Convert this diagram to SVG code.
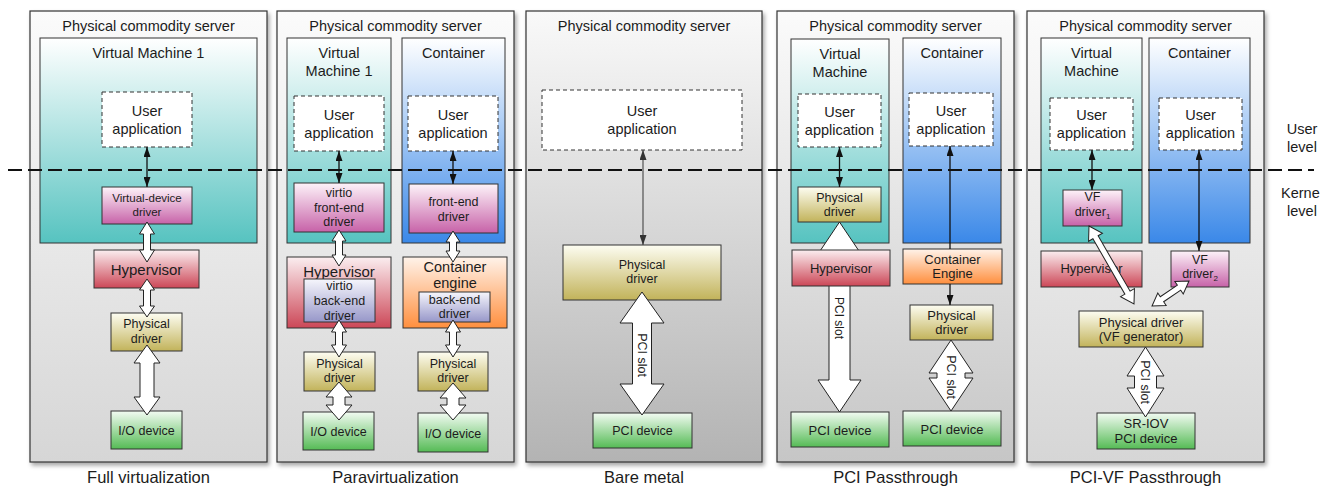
<svg xmlns="http://www.w3.org/2000/svg" width="1320" height="486" viewBox="0 0 1320 486">
<defs>
<style>
.t{font-family:"Liberation Sans",Arial,Helvetica,sans-serif;fill:#1c1c1c;text-anchor:middle}
.ttl{font-size:14.5px}
.cap{font-size:16.5px}
.s14{font-size:14.5px}
.s15{font-size:15px}
.s13{font-size:13px}
.s125{font-size:12.5px}
.s12{font-size:12px}
.s115{font-size:11.5px}
.panel{stroke:#333;stroke-width:1.2}
.box{stroke:#333;stroke-width:1}
.ua{fill:#fff;stroke:#333;stroke-width:1;stroke-dasharray:4 3}
.ha{fill:#fff;stroke:#222;stroke-width:1;stroke-linejoin:miter}
.sa{stroke:#111;stroke-width:1.3;fill:none}
.ga{stroke:#444;stroke-width:1.1;fill:none}
</style>
<filter id="sh" x="-5%" y="-5%" width="115%" height="115%">
<feDropShadow dx="2" dy="3" stdDeviation="2" flood-color="#000" flood-opacity="0.35"/>
</filter>
<marker id="ah" viewBox="0 0 10 10" refX="10" refY="5" markerWidth="10" markerHeight="7" markerUnits="userSpaceOnUse" orient="auto-start-reverse" preserveAspectRatio="none"><path d="M0,0 L10,5 L0,10 Z" fill="#111"/></marker>
<marker id="ahg" viewBox="0 0 10 10" refX="10" refY="5" markerWidth="10" markerHeight="7" markerUnits="userSpaceOnUse" orient="auto-start-reverse" preserveAspectRatio="none"><path d="M0,0 L10,5 L0,10 Z" fill="#333"/></marker>
<linearGradient id="gP" x1="0" y1="0" x2="0" y2="1"><stop offset="0" stop-color="#fbfbfb"/><stop offset="1" stop-color="#d6d6d6"/></linearGradient>
<linearGradient id="gP3" x1="0" y1="0" x2="0" y2="1"><stop offset="0" stop-color="#f9f9f9"/><stop offset="1" stop-color="#b3b3b3"/></linearGradient>
<linearGradient id="gP4" x1="0" y1="0" x2="0" y2="1"><stop offset="0" stop-color="#fbfbfb"/><stop offset="1" stop-color="#c6c6c6"/></linearGradient>
<linearGradient id="gVM" x1="0" y1="0" x2="0" y2="1"><stop offset="0" stop-color="#ffffff"/><stop offset="1" stop-color="#56c3c0"/></linearGradient>
<linearGradient id="gCT" x1="0" y1="0" x2="0" y2="1"><stop offset="0" stop-color="#ffffff"/><stop offset="1" stop-color="#3a88e8"/></linearGradient>
<linearGradient id="gPK" x1="0" y1="0" x2="0" y2="1"><stop offset="0" stop-color="#fdf3f9"/><stop offset="1" stop-color="#c762a8"/></linearGradient>
<linearGradient id="gRD" x1="0" y1="0" x2="0" y2="1"><stop offset="0" stop-color="#fbeef0"/><stop offset="1" stop-color="#cc4757"/></linearGradient>
<linearGradient id="gYL" x1="0" y1="0" x2="0" y2="1"><stop offset="0" stop-color="#fdfdf2"/><stop offset="1" stop-color="#c2b35a"/></linearGradient>
<linearGradient id="gGR" x1="0" y1="0" x2="0" y2="1"><stop offset="0" stop-color="#f2fbf2"/><stop offset="1" stop-color="#55bb55"/></linearGradient>
<linearGradient id="gOR" x1="0" y1="0" x2="0" y2="1"><stop offset="0" stop-color="#fff3ea"/><stop offset="1" stop-color="#ff8f3e"/></linearGradient>
<linearGradient id="gLV" x1="0" y1="0" x2="0" y2="1"><stop offset="0" stop-color="#f6f6fc"/><stop offset="1" stop-color="#9797c9"/></linearGradient>
</defs>

<!-- Panels -->
<g id="panel-full">
<rect class="panel" x="30" y="11" width="237" height="451" fill="url(#gP)" filter="url(#sh)"/>
<text class="t ttl" x="148.5" y="31">Physical commodity server</text>
<text class="t cap" x="148.5" y="483">Full virtualization</text>
</g>
<g id="panel-para">
<rect class="panel" x="277" y="11" width="237" height="451" fill="url(#gP)" filter="url(#sh)"/>
<text class="t ttl" x="395.5" y="31">Physical commodity server</text>
<text class="t cap" x="395.5" y="483">Paravirtualization</text>
</g>
<g id="panel-bare">
<rect class="panel" x="526" y="11" width="236" height="451" fill="url(#gP3)" filter="url(#sh)"/>
<text class="t ttl" x="644" y="31">Physical commodity server</text>
<text class="t cap" x="644" y="483">Bare metal</text>
</g>
<g id="panel-pci">
<rect class="panel" x="777" y="11" width="237" height="451" fill="url(#gP4)" filter="url(#sh)"/>
<text class="t ttl" x="895.5" y="31">Physical commodity server</text>
<text class="t cap" x="895.5" y="483">PCI Passthrough</text>
</g>
<g id="panel-pcivf">
<rect class="panel" x="1027" y="11" width="237" height="451" fill="url(#gP)" filter="url(#sh)"/>
<text class="t ttl" x="1145.5" y="31">Physical commodity server</text>
<text class="t cap" x="1145.5" y="483">PCI-VF Passthrough</text>
</g>

<!-- VM / container areas -->
<g id="vm-full"><rect class="box" x="40" y="38" width="217" height="205" fill="url(#gVM)"/><text class="t s14" x="148.5" y="58">Virtual Machine 1</text></g>
<g id="vm-para"><rect class="box" x="287" y="38" width="104" height="205" fill="url(#gVM)"/><text class="t s14" x="339" y="58">Virtual</text><text class="t s14" x="339" y="76">Machine 1</text></g>
<g id="ct-para"><rect class="box" x="402" y="38" width="103" height="205" fill="url(#gCT)"/><text class="t s14" x="453.5" y="58">Container</text></g>
<g id="vm-pci"><rect class="box" x="791" y="39" width="98" height="204" fill="url(#gVM)"/><text class="t s14" x="840" y="59">Virtual</text><text class="t s14" x="840" y="77">Machine</text></g>
<g id="ct-pci"><rect class="box" x="903" y="38" width="98" height="205" fill="url(#gCT)"/><text class="t s14" x="952" y="58">Container</text></g>
<g id="vm-pcivf"><rect class="box" x="1041" y="38" width="101" height="205" fill="url(#gVM)"/><text class="t s14" x="1091.5" y="58">Virtual</text><text class="t s14" x="1091.5" y="76">Machine</text></g>
<g id="ct-pcivf"><rect class="box" x="1149" y="38" width="101" height="205" fill="url(#gCT)"/><text class="t s14" x="1199.5" y="58">Container</text></g>

<!-- user / kernel boundary -->
<g id="level-boundary">
<line x1="8" y1="170" x2="1314" y2="170" stroke="#111" stroke-width="2.2" stroke-dasharray="14 6"/>
<text class="t s14" x="1302" y="134">User</text>
<text class="t s14" x="1302" y="152">level</text>
<text class="t s14" x="1281" y="198" style="text-anchor:start">Kerne</text>
<text class="t s14" x="1302" y="216">level</text>
</g>

<!-- connector drawn behind hypervisor -->
<g id="connectors-back">
<path class="ha" d="M839.5,222 L861,254 L850,254 L850,380 L861,380 L839.5,412 L818,380 L829,380 L829,254 L818,254 Z"/>
<text class="t s12" transform="translate(839.5,318) rotate(90)" x="0" y="4.2">PCI slot</text>
</g>

<!-- Nodes -->
<g id="n1-app"><rect class="ua" x="102" y="92" width="90" height="55"/><text class="t s14" x="147" y="116">User</text><text class="t s14" x="147" y="134">application</text></g>
<g id="n1-vdd"><rect class="box" x="102" y="187" width="90" height="37" fill="url(#gPK)"/><text class="t s115" x="147" y="202">Virtual-device</text><text class="t s115" x="147" y="216">driver</text></g>
<g id="n1-hyp"><rect class="box" x="94" y="250" width="105" height="38" fill="url(#gRD)"/><text class="t s15" x="146.5" y="274.5">Hypervisor</text></g>
<g id="n1-phys"><rect class="box" x="111" y="313" width="71" height="38" fill="url(#gYL)"/><text class="t s125" x="146.5" y="327.5">Physical</text><text class="t s125" x="146.5" y="342.5">driver</text></g>
<g id="n1-io"><rect class="box" x="111" y="411" width="71" height="38" fill="url(#gGR)"/><text class="t s125" x="146.5" y="434.5">I/O device</text></g>

<g id="n2-app-vm"><rect class="ua" x="294" y="96" width="90" height="55"/><text class="t s14" x="339" y="120">User</text><text class="t s14" x="339" y="138">application</text></g>
<g id="n2-app-ct"><rect class="ua" x="408" y="96" width="90" height="55"/><text class="t s14" x="453" y="120">User</text><text class="t s14" x="453" y="138">application</text></g>
<g id="n2-fe-vm"><rect class="box" x="294" y="183" width="90" height="49" fill="url(#gPK)"/><text class="t s125" x="339" y="197">virtio</text><text class="t s125" x="339" y="212">front-end</text><text class="t s125" x="339" y="226">driver</text></g>
<g id="n2-fe-ct"><rect class="box" x="409" y="184" width="89" height="49" fill="url(#gPK)"/><text class="t s125" x="453.5" y="206">front-end</text><text class="t s125" x="453.5" y="221">driver</text></g>
<g id="n2-hyp"><rect class="box" x="287" y="257" width="104" height="71" fill="url(#gRD)"/><text class="t s15" x="339" y="277">Hypervisor</text></g>
<g id="n2-be-vm"><rect class="box" x="304" y="279" width="71" height="43" fill="url(#gLV)"/><text class="t s125" x="339.5" y="290">virtio</text><text class="t s125" x="339.5" y="305">back-end</text><text class="t s125" x="339.5" y="320">driver</text></g>
<g id="n2-engine"><rect class="box" x="403" y="257" width="104" height="71" fill="url(#gOR)"/><text class="t s14" x="455" y="272">Container</text><text class="t s14" x="455" y="288">engine</text></g>
<g id="n2-be-ct"><rect class="box" x="419" y="292" width="71" height="30" fill="url(#gLV)"/><text class="t s125" x="454.5" y="304">back-end</text><text class="t s125" x="454.5" y="318">driver</text></g>
<g id="n2-phys-vm"><rect class="box" x="304" y="352" width="71" height="39" fill="url(#gYL)"/><text class="t s125" x="339.5" y="368">Physical</text><text class="t s125" x="339.5" y="382">driver</text></g>
<g id="n2-phys-ct"><rect class="box" x="418" y="352" width="70" height="39" fill="url(#gYL)"/><text class="t s125" x="453" y="368">Physical</text><text class="t s125" x="453" y="382">driver</text></g>
<g id="n2-io-vm"><rect class="box" x="303" y="412" width="71" height="38" fill="url(#gGR)"/><text class="t s125" x="338.5" y="435.5">I/O device</text></g>
<g id="n2-io-ct"><rect class="box" x="418" y="413" width="70" height="39" fill="url(#gGR)"/><text class="t s125" x="453" y="437.5">I/O device</text></g>

<g id="n3-app"><rect class="ua" x="542" y="90" width="200" height="60"/><text class="t s14" x="642" y="116">User</text><text class="t s14" x="642" y="134">application</text></g>
<g id="n3-phys"><rect class="box" x="563" y="245" width="158" height="55" fill="url(#gYL)"/><text class="t s125" x="642" y="269">Physical</text><text class="t s125" x="642" y="283">driver</text></g>
<g id="n3-pci"><rect class="box" x="593" y="413" width="99" height="35" fill="url(#gGR)"/><text class="t s125" x="642.5" y="435">PCI device</text></g>

<g id="n4-app-vm"><rect class="ua" x="798" y="94" width="83" height="53"/><text class="t s14" x="839.5" y="117">User</text><text class="t s14" x="839.5" y="135">application</text></g>
<g id="n4-app-ct"><rect class="ua" x="909" y="93" width="84" height="53"/><text class="t s14" x="951" y="116">User</text><text class="t s14" x="951" y="134">application</text></g>
<g id="n4-phys-vm"><rect class="box" x="798" y="187" width="83" height="35" fill="url(#gYL)"/><text class="t s125" x="839.5" y="202">Physical</text><text class="t s125" x="839.5" y="216">driver</text></g>
<g id="n4-hyp"><rect class="box" x="792" y="250" width="98" height="36" fill="url(#gRD)"/><text class="t s13" x="841" y="272.5">Hypervisor</text></g>
<g id="n4-engine"><rect class="box" x="903" y="249" width="99" height="35" fill="url(#gOR)"/><text class="t s13" x="952.5" y="263.5">Container</text><text class="t s13" x="952.5" y="278">Engine</text></g>
<g id="n4-phys-ct"><rect class="box" x="910" y="305" width="83" height="35" fill="url(#gYL)"/><text class="t s13" x="951.5" y="320">Physical</text><text class="t s13" x="951.5" y="334">driver</text></g>
<g id="n4-pci-vm"><rect class="box" x="791" y="412" width="98" height="35" fill="url(#gGR)"/><text class="t s13" x="840" y="434.5">PCI device</text></g>
<g id="n4-pci-ct"><rect class="box" x="903" y="411" width="98" height="35" fill="url(#gGR)"/><text class="t s13" x="952" y="433.5">PCI device</text></g>

<g id="n5-app-vm"><rect class="ua" x="1050" y="98" width="83" height="52"/><text class="t s14" x="1091.5" y="120">User</text><text class="t s14" x="1091.5" y="138">application</text></g>
<g id="n5-app-ct"><rect class="ua" x="1159" y="98" width="83" height="52"/><text class="t s14" x="1200.5" y="120">User</text><text class="t s14" x="1200.5" y="138">application</text></g>
<g id="n5-vf1"><rect class="box" x="1063" y="190" width="59" height="36" fill="url(#gPK)"/><text class="t s125" x="1092.5" y="201">VF</text><text class="t s125" x="1092.5" y="216">driver<tspan font-size="8" dy="3">1</tspan></text></g>
<g id="n5-hyp"><rect class="box" x="1041" y="251" width="101" height="36" fill="url(#gRD)"/><text class="t s13" x="1091.5" y="272.5">Hypervisor</text></g>
<g id="n5-vf2"><rect class="box" x="1171" y="251" width="58" height="36" fill="url(#gPK)"/><text class="t s125" x="1200" y="264">VF</text><text class="t s125" x="1200" y="278">driver<tspan font-size="8" dy="3">2</tspan></text></g>
<g id="n5-phys"><rect class="box" x="1079" y="311" width="124" height="36" fill="url(#gYL)"/><text class="t s13" x="1141" y="326.5">Physical driver</text><text class="t s13" x="1141" y="340.5">(VF generator)</text></g>
<g id="n5-sriov"><rect class="box" x="1097" y="413" width="98" height="36" fill="url(#gGR)"/><text class="t s13" x="1146" y="427.5">SR-IOV</text><text class="t s13" x="1146" y="442.5">PCI device</text></g>

<!-- Connectors -->
<g id="connectors">
<line class="sa" x1="147" y1="147" x2="147" y2="187" marker-start="url(#ah)" marker-end="url(#ah)"/>
<path class="ha" d="M147,222 L154.5,234 L150.5,234 L150.5,250 L154.5,250 L147,262 L139.5,250 L143.5,250 L143.5,234 L139.5,234 Z"/>
<path class="ha" d="M147,279 L154.5,290 L150.5,290 L150.5,306 L154.5,306 L147,317 L139.5,306 L143.5,306 L143.5,290 L139.5,290 Z"/>
<path class="ha" d="M147,345 L160,363 L154,363 L154,397 L160,397 L147,415 L134,397 L140,397 L140,363 L134,363 Z"/>

<line class="sa" x1="339" y1="151" x2="339" y2="183" marker-start="url(#ah)" marker-end="url(#ah)"/>
<line class="sa" x1="453" y1="151" x2="453" y2="184" marker-start="url(#ah)" marker-end="url(#ah)"/>
<path class="ha" d="M339,230 L346,241 L342.5,241 L342.5,255 L346,255 L339,266 L332,255 L335.5,255 L335.5,241 L332,241 Z"/>
<path class="ha" d="M339,320 L346.5,332 L342.5,332 L342.5,345 L346.5,345 L339,357 L331.5,345 L335.5,345 L335.5,332 L331.5,332 Z"/>
<path class="ha" d="M339,382 L352,397 L345,397 L345,405 L352,405 L339,420 L326,405 L333,405 L333,397 L326,397 Z"/>
<path class="ha" d="M453,231 L460,242 L456.5,242 L456.5,251 L460,251 L453,262 L446,251 L449.5,251 L449.5,242 L446,242 Z"/>
<path class="ha" d="M453,320 L460.5,332 L456.5,332 L456.5,345 L460.5,345 L453,357 L445.5,345 L449.5,345 L449.5,332 L445.5,332 Z"/>
<path class="ha" d="M453,383 L466,398 L459,398 L459,405 L466,405 L453,420 L440,405 L447,405 L447,398 L440,398 Z"/>

<line class="ga" x1="643" y1="150" x2="643" y2="245" marker-start="url(#ahg)" marker-end="url(#ahg)"/>
<path class="ha" d="M642,292 L664,323 L651.5,323 L651.5,384 L664,384 L642,415 L620,384 L632.5,384 L632.5,323 L620,323 Z"/>
<text class="t s125" transform="translate(642,355) rotate(90)" x="0" y="4.4">PCI slot</text>

<line class="sa" x1="839.5" y1="147" x2="839.5" y2="187" marker-start="url(#ah)" marker-end="url(#ah)"/>
<line class="sa" x1="950" y1="249" x2="950" y2="146" marker-end="url(#ah)"/>
<line class="sa" x1="950" y1="284" x2="950" y2="305" marker-end="url(#ah)"/>
<path class="ha" d="M951,340 L973,373 L965,373 L965,378 L973,378 L951,411 L929,378 L937,378 L937,373 L929,373 Z"/>
<text class="t s125" transform="translate(951,377) rotate(90)" x="0" y="4.4">PCI slot</text>

<line class="sa" x1="1092" y1="150" x2="1092" y2="190" marker-start="url(#ah)" marker-end="url(#ah)"/>
<line class="sa" x1="1199" y1="150" x2="1199" y2="251" marker-start="url(#ah)" marker-end="url(#ah)"/>
<path class="ha" transform="translate(1089,226) rotate(60)" d="M0,0 L13,-8 L13,-3 L77,-3 L77,-8 L90,0 L77,8 L77,3 L13,3 L13,8 Z"/>
<path class="ha" transform="translate(1189,281) rotate(146)" d="M0,0 L12,-7.5 L12,-3 L32.6,-3 L32.6,-7.5 L44.6,0 L32.6,7.5 L32.6,3 L12,3 L12,7.5 Z"/>
<path class="ha" d="M1145.5,347 L1164,376 L1156.5,376 L1156.5,388 L1164,388 L1145.5,417 L1127,388 L1134.5,388 L1134.5,376 L1127,376 Z"/>
<text class="t s125" transform="translate(1145.5,382) rotate(90)" x="0" y="4.4">PCI slot</text>
</g>
</svg>
